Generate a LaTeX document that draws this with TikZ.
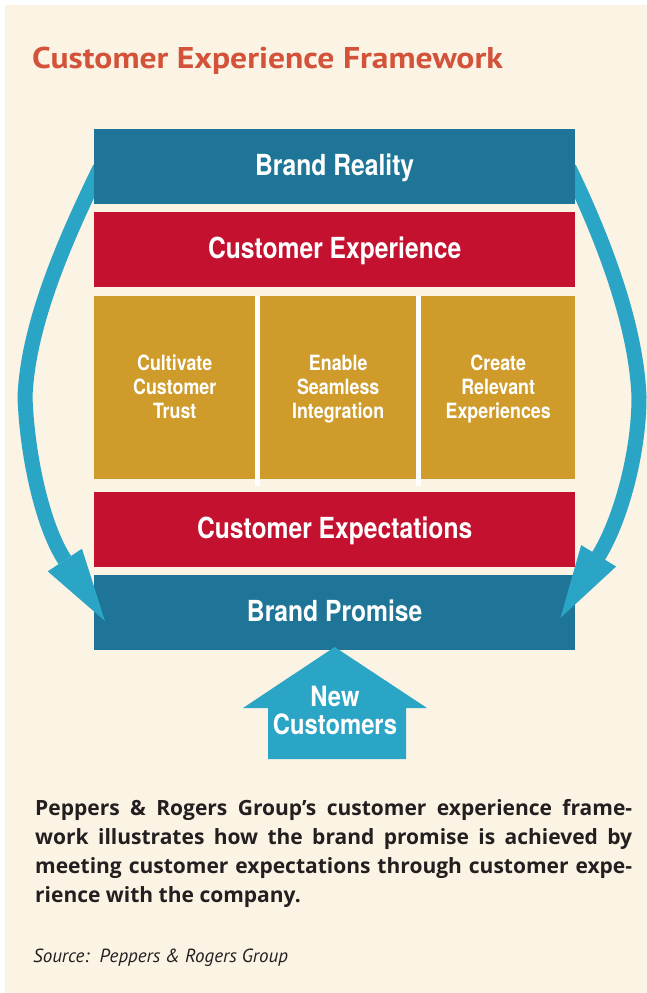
\documentclass[tikz,border=0pt]{standalone}
\usepackage{fontspec}
\setmainfont{PT Sans}
\newfontfamily\condfont[FakeStretch=0.85]{TeX Gyre Heros}
\newfontfamily\titlefont[FakeStretch=1.12]{PT Sans}
\newfontfamily\capfont{Open Sans}
\usetikzlibrary{arrows.meta,calc}
\definecolor{cream}{HTML}{FBF3E4}
\definecolor{dblue}{HTML}{1E7597}
\definecolor{cred}{HTML}{C3112F}
\definecolor{gold}{HTML}{CF9C2C}
\definecolor{lblue}{HTML}{2BA5C6}
\definecolor{titlec}{HTML}{D3523A}
\definecolor{bodyc}{HTML}{231F20}
\begin{document}
\begin{tikzpicture}[x=1pt,y=-1pt,
  bar/.style={anchor=north west, minimum width=481pt, minimum height=75pt, inner sep=0pt,
    text=white, font=\condfont\bfseries\fontsize{29}{30}\selectfont, text height=21pt, text depth=4pt},
  col/.style={anchor=north west, minimum height=183pt, inner sep=0pt, fill=gold},
  collbl/.style={anchor=base, inner sep=0pt, text=white, font=\condfont\bfseries\fontsize{21}{24}\selectfont},
  arcline/.style={draw=lblue, line width=15pt, -{Triangle[length=73pt,width=41pt,line width=0pt]}},
  sep/.style={fill=white},
]
\useasboundingbox (0,0) rectangle (647,993);
\fill[white] (0,0) rectangle (647,993);
\fill[cream] (5,5) rectangle (647,993);

\node[anchor=base west, inner sep=0pt, text=titlec, font=\titlefont\bfseries\fontsize{30}{32}\selectfont] (title) at (32,68) {Customer Experience Framework};

\node[bar, fill=dblue] (bp) at (94,575) {Brand Promise};
\node[bar, fill=cred] (cx) at (94,492) {Customer Expectations};
\node[bar, fill=cred] (ce) at (94,212) {Customer Experience};

\node[col, minimum width=161pt] (c1) at (94,296) {};
\node[col, minimum width=156pt] (c2) at (260,296) {};
\node[col, minimum width=154pt] (c3) at (421,296) {};
\fill[sep] (c1.north east) rectangle ($(c2.south west)+(0,7)$);
\fill[sep] (c2.north east) rectangle ($(c3.south west)+(0,7)$);

\node[collbl] (t1) at (c1.center |- 0,370) {\begin{tabular}[t]{@{}c@{}}Cultivate\\Customer\\Trust\end{tabular}};
\node[collbl] (t2) at (c2.center |- 0,370) {\begin{tabular}[t]{@{}c@{}}Enable\\Seamless\\Integration\end{tabular}};
\node[collbl] (t3) at (c3.center |- 0,370) {\begin{tabular}[t]{@{}c@{}}Create\\Relevant\\Experiences\end{tabular}};

\coordinate (ls) at (100,168);
\coordinate (rs) at (569,168);
\draw[arcline] (ls) .. controls (70,230) and (28,320) .. (25,397)
  .. controls (27,455) and (42.5,526) .. (64.5,559.5) -- ($(bp.north west)+(11,46)$);
\draw[arcline] (rs) .. controls (599,230) and (636,320) .. (639,397)
  .. controls (639,455) and (619.7,522) .. (598.5,556) -- ($(bp.north east)+(-15,43)$);

\node[bar, fill=dblue] (br) at (94,129) {Brand Reality};

\fill[lblue] (bp.south |- 0,647) -- (427,708) -- (406,708) -- (406,759) -- (268,759) -- (268,708) -- (243,708) -- cycle;
\node[anchor=base, inner sep=0pt, text=white, font=\condfont\bfseries\fontsize{28}{25}\selectfont] (nc) at (335,706)
  {\begin{tabular}[t]{@{}c@{}}New\\Customers\end{tabular}};

\node[anchor=base west, inner sep=0pt, text=bodyc, align=left, font=\capfont\bfseries\fontsize{21}{29}\selectfont] (capt) at (35,902)
  {\makebox[597pt][s]{Peppers \& Rogers Group’s customer experience frame-}\\
   \makebox[597pt][s]{work illustrates how the brand promise is achieved by}\\
   \makebox[597pt][s]{meeting customer expectations through customer expe-}\\
   rience with the company.};

\node[anchor=base west, inner sep=0pt, text=bodyc, font=\itshape\fontsize{19}{20}\selectfont] (src) at (33,962) {Source:\ \ Peppers \& Rogers Group};
\end{tikzpicture}
\end{document}
